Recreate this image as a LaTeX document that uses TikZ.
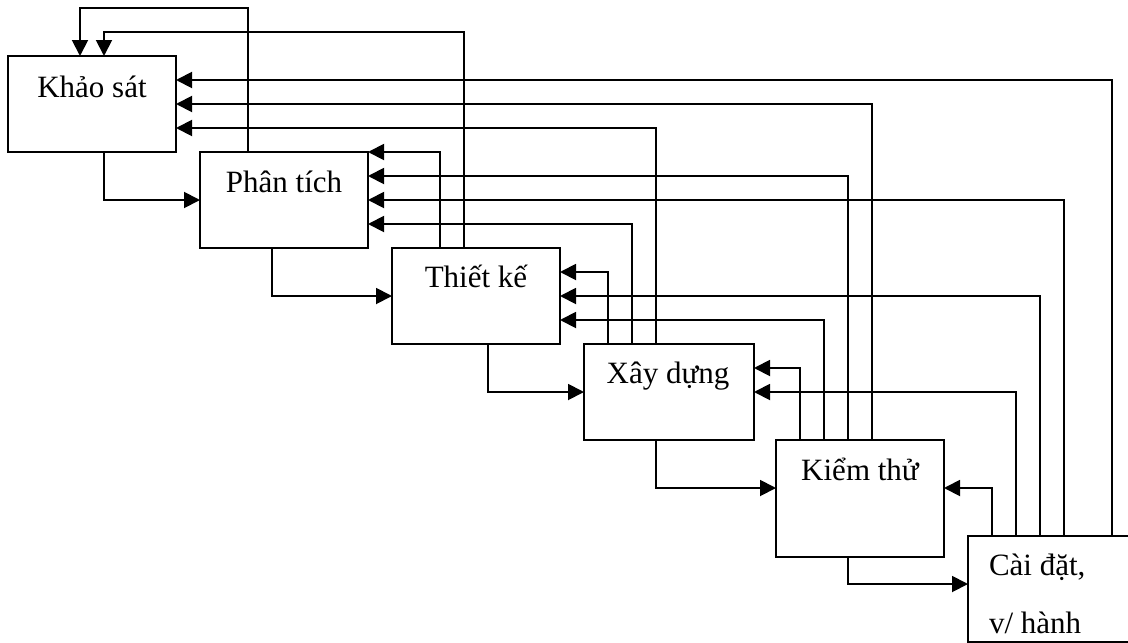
\documentclass[tikz,border=0pt]{standalone}
\usepackage{fontspec}
\setmainfont{Liberation Serif}
\usetikzlibrary{arrows.meta,calc}
\begin{document}
\begin{tikzpicture}[x=1pt,y=-1pt,
  box/.style={draw,line width=1.7pt,rectangle,inner sep=0pt,outer sep=0pt},
  lbl/.style={inner sep=0pt,outer sep=0pt,anchor=base,font=\fontsize{31}{37}\selectfont},
  lbll/.style={lbl,anchor=base west},
  conn/.style={line width=1.9pt,-{Triangle[length=16pt,width=16pt]}}]
\useasboundingbox (0,0) rectangle (1128,643);
% boxes
\node[box,minimum width=168pt,minimum height=96pt] (K) at (92,104) {};
\node[box,minimum width=168pt,minimum height=96pt] (P) at (284,200) {};
\node[box,minimum width=168pt,minimum height=96pt] (T) at (476,296) {};
\node[box,minimum width=170pt,minimum height=96pt] (X) at (669,392) {};
\node[box,minimum width=168pt,minimum height=117pt] (KT) at (860,498.5) {};
\node[box,minimum width=180pt,minimum height=106pt] (C) at (1058,589) {};
% labels
\node[lbl] (tK) at (92,97) {Khảo sát};
\node[lbl] (tP) at (284,192) {Phân tích};
\node[lbl] (tT) at (476,287) {Thiết kế};
\node[lbl] (tX) at (668,383) {Xây dựng};
\node[lbl] (tKT) at (860,480) {Kiểm thử};
\node[lbll] (tC1) at (989,575) {Cài đặt,};
\node[lbll] (tC2) at (989,633) {v/ hành};
% forward
\draw[conn] ($(K.south west)+(96,0)$) |- (P.west);
\draw[conn] ($(P.south west)+(72,0)$) |- (T.west);
\draw[conn] ($(T.south west)+(96,0)$) |- ($(X.north west)+(0,48)$);
\draw[conn] ($(X.south west)+(72,0)$) |- ($(KT.north west)+(0,48)$);
\draw[conn] ($(KT.south west)+(72,0)$) |- ($(C.north west)+(0,48)$);
% feedback to Khao sat (top)
\draw[conn] ($(P.north west)+(48,0)$) -- ++(0,-144) -| ($(K.north west)+(72,0)$);
\draw[conn] ($(T.north west)+(72,0)$) -- ++(0,-216) -| ($(K.north west)+(96,0)$);
% feedback to Khao sat (right)
\draw[conn] ($(C.north west)+(144,0)$) |- ($(K.north east)+(0,24)$);
\draw[conn] ($(KT.north west)+(96,0)$) |- ($(K.north east)+(0,48)$);
\draw[conn] ($(X.north west)+(72,0)$) |- ($(K.north east)+(0,72)$);
% feedback to Phan tich
\draw[conn] ($(T.north west)+(48,0)$) |- (P.north east);
\draw[conn] ($(KT.north west)+(72,0)$) |- ($(P.north east)+(0,24)$);
\draw[conn] ($(C.north west)+(96,0)$) |- ($(P.north east)+(0,48)$);
\draw[conn] ($(X.north west)+(48,0)$) |- ($(P.north east)+(0,72)$);
% feedback to Thiet ke
\draw[conn] ($(X.north west)+(24,0)$) |- ($(T.north east)+(0,24)$);
\draw[conn] ($(C.north west)+(72,0)$) |- ($(T.north east)+(0,48)$);
\draw[conn] ($(KT.north west)+(48,0)$) |- ($(T.north east)+(0,72)$);
% feedback to Xay dung
\draw[conn] ($(KT.north west)+(24,0)$) |- ($(X.north east)+(0,24)$);
\draw[conn] ($(C.north west)+(48,0)$) |- ($(X.north east)+(0,48)$);
% feedback to Kiem thu
\draw[conn] ($(C.north west)+(24,0)$) |- ($(KT.north east)+(0,48)$);
\end{tikzpicture}
\end{document}
